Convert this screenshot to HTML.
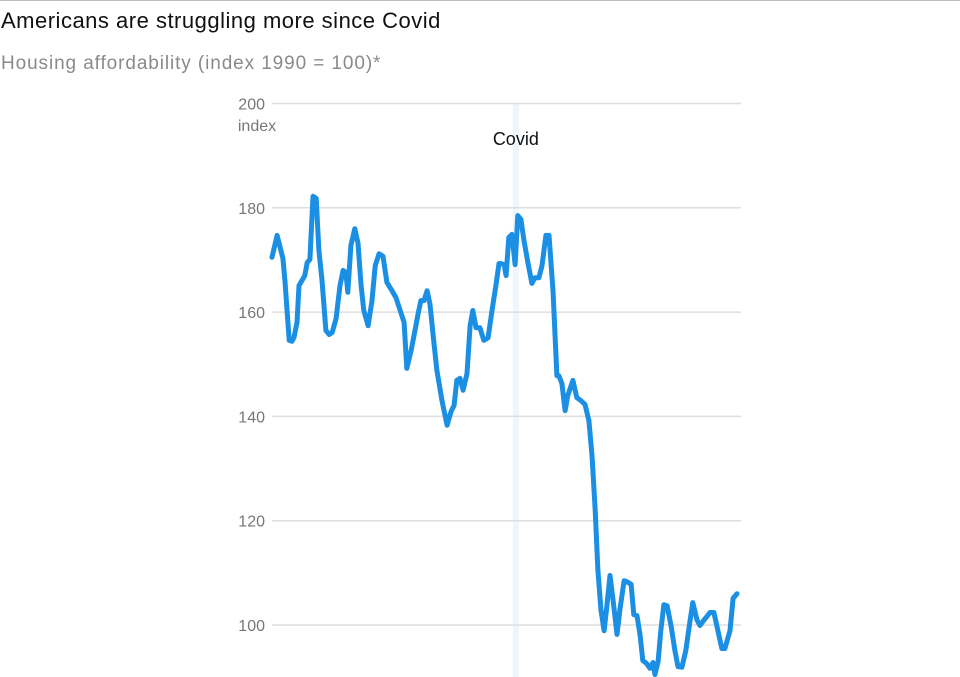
<!DOCTYPE html>
<html><head><meta charset="utf-8"><style>
body{margin:0;width:960px;height:677px;overflow:hidden;background:#fff;font-family:"Liberation Sans",sans-serif;}
#top{position:absolute;left:0;top:0;width:960px;height:1px;background:#bbb}
#title{position:absolute;left:1px;top:8px;font-size:22px;letter-spacing:0.5px;color:#111}
#sub{position:absolute;left:1px;top:53px;font-size:19px;letter-spacing:0.9px;color:#8a8a8a}
svg{position:absolute;left:0;top:0}
</style></head><body>
<div id="top"></div>
<div id="title">Americans are struggling more since Covid</div>
<div id="sub">Housing affordability (index 1990 = 100)*</div>
<svg id="chart" width="960" height="677"></svg>
<script>
const months=[0,1.3,2.8,3.3,4.4,5.1,5.6,6.4,6.9,7.7,8.4,9.0,9.7,10.5,11.3,12.0,12.8,13.8,14.6,15.4,16.4,17.4,18.2,18.9,19.4,20.2,21.2,22.0,22.8,23.5,24.6,25.6,26.4,27.4,28.4,29.4,30.7,31.7,32.8,33.8,34.5,35.6,36.6,37.4,38.1,38.9,39.7,40.4,41.5,42.2,43.5,44.8,45.8,46.6,47.3,48.1,48.9,49.9,50.7,51.4,52.2,53.2,54.2,55.3,56.3,57.3,58.1,58.6,59.4,59.9,60.6,61.4,62.2,62.9,63.7,64.5,65.5,66.5,67.3,68.3,69.1,70.1,70.9,71.9,72.9,73.4,74.2,75.0,75.7,77.0,78.0,79.1,80.1,81.1,81.9,82.7,83.4,84.2,85.0,85.7,86.5,87.3,88.3,89.0,90.1,90.8,91.9,92.6,93.4,94.2,94.9,95.9,96.7,97.5,98.0,98.8,99.5,100.3,101.1,102.1,103.1,103.9,104.9,105.9,107.0,107.7,108.8,109.5,110.5,112.1,113.1,114.1,115.1,115.9,117.2,118.0,119.0];
const values=[170.5,174.7,170.3,166.1,154.6,154.4,155.1,158.0,165.1,166.1,167.0,169.5,170.1,182.2,181.8,171.8,166.1,156.5,155.7,156.1,158.8,165.1,168.0,167.6,163.8,172.8,176.0,173.2,165.1,160.3,157.4,162.2,168.9,171.2,170.7,165.7,164.1,162.8,160.3,158.0,149.2,152.6,156.5,159.7,162.2,162.2,164.1,161.6,153.6,148.8,143.0,138.3,140.9,142.1,146.9,147.3,145.0,148.2,157.4,160.3,157.0,157.0,154.6,155.1,160.3,165.1,169.3,169.3,169.1,167.0,174.3,174.9,169.1,178.5,177.8,173.7,169.5,165.5,166.6,166.6,168.9,174.7,174.7,164.1,147.8,147.8,146.3,141.1,144.0,146.9,143.6,143.0,142.3,139.2,132.5,122.0,110.5,102.8,98.9,103.7,109.5,104.7,98.2,102.8,108.5,108.3,107.8,102.0,101.8,98.0,93.2,92.6,91.7,92.8,90.5,93.0,98.9,103.9,103.7,99.9,95.1,92.0,91.9,95.1,100.9,104.3,100.9,99.9,100.9,102.4,102.4,98.9,95.5,95.5,98.9,105.1,106.0];
const yTicks=[100,120,140,160,180,200];
const covidMonth=62.4;
const NS='http://www.w3.org/2000/svg';
const svg=document.getElementById('chart');
const X=m=>272+(m-0)*(737-272)/119;
const Y=v=>625-(v-100)*5.215;
function mk(t,a){const e=document.createElementNS(NS,t);for(const k in a)e.setAttribute(k,a[k]);svg.appendChild(e);return e;}
const band=mk('rect',{x:X(covidMonth)-3,y:103,width:6,height:574,fill:'#eef5fb'});


yTicks.forEach(t=>{
  const g=mk('line',{x1:272,x2:741,y1:Y(t),y2:Y(t),stroke:'#dedede','stroke-width':1.5});
  
  
  const l=mk('text',{x:265,y:Y(t)+6,'text-anchor':'end','font-size':16,fill:'#777','font-family':'Liberation Sans Narrow, Liberation Sans, sans-serif'});
  l.textContent=t;
  
  
});
const idx=mk('text',{x:257,y:131,'text-anchor':'middle','font-size':16,fill:'#777','font-family':'Liberation Sans Narrow, Liberation Sans, sans-serif'});
idx.textContent='index';


const cl=mk('text',{x:X(covidMonth),y:145,'text-anchor':'middle','font-size':18,fill:'#111','font-family':'Liberation Sans Narrow, Liberation Sans, sans-serif'});
cl.textContent='Covid';


const d=months.map((m,i)=>(i?'L':'M')+X(m).toFixed(1)+','+Y(values[i]).toFixed(1)).join('');
const p=mk('path',{d:d,fill:'none',stroke:'#1a8fe3','stroke-width':5,'stroke-linejoin':'round','stroke-linecap':'round'});


</script>
</body></html>
